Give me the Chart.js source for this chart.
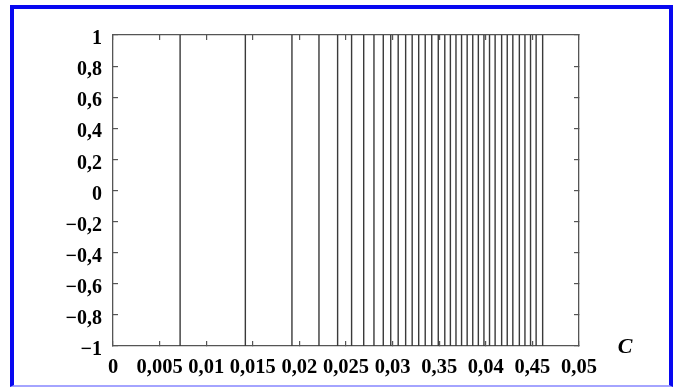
<!DOCTYPE html>
<html>
<head>
<meta charset="utf-8">
<script src="https://cdn.jsdelivr.net/npm/chart.js@4/dist/chart.umd.min.js"></script>
<style>
  html, body { margin: 0; padding: 0; background: #ffffff; }
  #wrap { position: relative; width: 675px; height: 387px; overflow: hidden; }
  #frame { position: absolute; left: 10px; top: 5px; width: 655px; height: 376px;
           border-left: 4px solid #0808f0; border-top: 4px solid #0808f0;
           border-right: 4px solid #0808f0; border-bottom: 2px solid #a4a4ff;
           pointer-events: none; }
  canvas { position: absolute; left: 0; top: 0; }
</style>
</head>
<body>
<div id="wrap">
  <canvas id="c" width="675" height="387"></canvas>
  <div id="frame"></div>
</div>
<script>
// Positions (C values) of the vertical lines
const cValues = [0.0072, 0.0142, 0.0192, 0.0221, 0.0241, 0.0256, 0.0269, 0.0280, 0.0290,
  0.0298, 0.0306, 0.0314, 0.0321, 0.0328, 0.0335, 0.0342, 0.0349, 0.0356, 0.0362, 0.0368,
  0.0374, 0.0380, 0.0386, 0.0392, 0.0398, 0.0404, 0.0410, 0.0417, 0.0423, 0.0429, 0.0436,
  0.0442, 0.0448, 0.0454, 0.0461];
const lineBottom = -1;
const lineTop = 1;
const xTickLabels = ["0", "0,005", "0,01", "0,015", "0,02", "0,025", "0,03", "0,35", "0,04", "0,45", "0,05"];
const yTickLabels = ["1", "0,8", "0,6", "0,4", "0,2", "0", "\u22120,2", "\u22120,4", "\u22120,6", "\u22120,8", "\u22121"];
const xAxisTitle = "C";

const points = [];
cValues.forEach(c => {
  points.push({x: c, y: lineBottom});
  points.push({x: c, y: lineTop});
  points.push({x: c, y: null});
});

const xLabelFont = {family: '"Liberation Serif", "Times New Roman", serif', weight: 'bold', size: 20.5};
const yLabelFont = {family: '"Liberation Serif", "Times New Roman", serif', weight: 'bold', size: 20};
const axisColor = '#555555';

function innerGrid() {
  return {drawOnChartArea: false, drawTicks: true, tickLength: -5, color: axisColor, lineWidth: 1.2};
}
function border() {
  return {display: true, color: axisColor, width: 1.3};
}

const cTitlePlugin = {
  id: 'cTitle',
  afterDraw(chart) {
    const ctx = chart.ctx;
    const a = chart.chartArea;
    ctx.save();
    ctx.font = 'italic bold 22px "Liberation Serif", serif';
    ctx.fillStyle = '#000';
    ctx.textAlign = 'center';
    ctx.textBaseline = 'middle';
    ctx.fillText(xAxisTitle, a.right + 46, a.bottom + 1);
    ctx.restore();
  }
};

new Chart(document.getElementById('c'), {
  type: 'line',
  data: {
    datasets: [{
      data: points,
      borderColor: '#3a3a3a',
      borderWidth: 1.4,
      pointRadius: 0,
      tension: 0,
      spanGaps: false
    }]
  },
  options: {
    responsive: false,
    animation: false,
    events: [],
    layout: {padding: {left: 0, right: 96, top: 35, bottom: 0}},
    plugins: {legend: {display: false}, tooltip: {enabled: false}, title: {display: false}},
    scales: {
      x: {
        type: 'linear', position: 'bottom', min: 0, max: 0.05,
        grid: innerGrid(), border: border(),
        ticks: {
          stepSize: 0.005, autoSkip: false, maxRotation: 0, padding: 14,
          color: '#000', font: xLabelFont,
          callback: v => xTickLabels[Math.round(v / 0.005)]
        },
        afterFit: s => { s.height = 41; }
      },
      x2: {
        type: 'linear', position: 'top', min: 0, max: 0.05,
        grid: innerGrid(), border: border(),
        ticks: {stepSize: 0.005, display: false},
        afterFit: s => { s.height = 0; }
      },
      y: {
        type: 'linear', position: 'left', min: -1, max: 1,
        grid: innerGrid(), border: border(),
        ticks: {
          stepSize: 0.2, autoSkip: false, padding: 16, labelOffset: 4,
          color: '#000', font: yLabelFont,
          callback: v => yTickLabels[Math.round((1 - v) / 0.2)]
        },
        afterFit: s => { s.width = 113; }
      },
      y2: {
        type: 'linear', position: 'right', min: -1, max: 1,
        grid: innerGrid(), border: border(),
        ticks: {stepSize: 0.2, display: false},
        afterFit: s => { s.width = 0; }
      }
    }
  },
  plugins: [cTitlePlugin]
});
</script>
</body>
</html>
